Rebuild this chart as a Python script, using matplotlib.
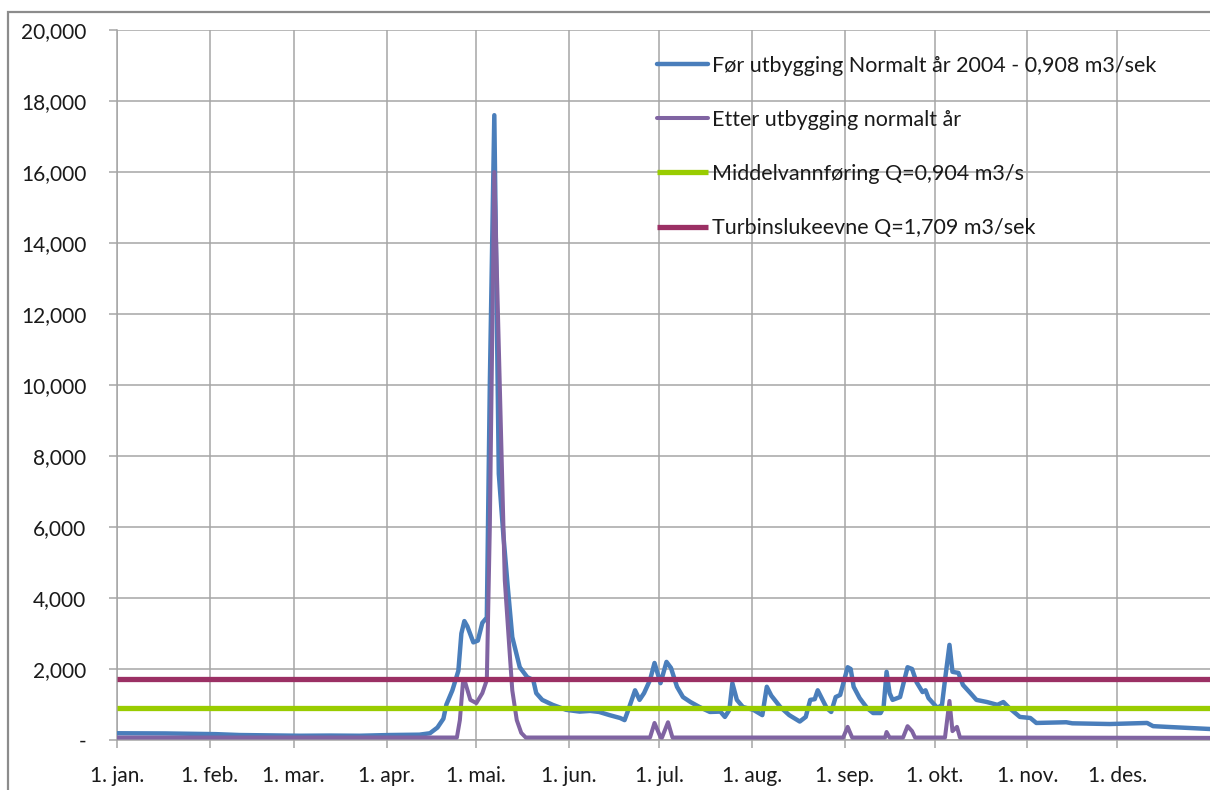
import matplotlib
matplotlib.use("Agg")
import matplotlib.pyplot as plt
from matplotlib.patches import Rectangle
from matplotlib.ticker import FuncFormatter, FixedLocator

# ---- data (day of year, value) ----
before_days = [0, 16, 33, 41, 51, 61, 71, 81, 91, 101, 104.5, 107, 109, 110, 112, 114, 115, 116, 117, 119,
               120.5, 122, 123.5, 124.5, 126, 127.5, 129, 130.5, 132, 134.5, 137, 139, 140, 142, 145.5, 150,
               154.5, 158, 161, 164.5, 168, 169.5, 170.5, 173, 174.5, 176, 178, 179.5, 181.5, 183.5, 185, 187,
               189, 191.5, 194.5, 198, 201.5, 203, 204.5, 205.5, 207, 209, 212.5, 215.5, 217, 218.5, 221.5,
               224.5, 228, 230, 231.5, 233, 234, 235.5, 237, 238.5, 240, 241.5, 244, 245, 246, 248, 250.5,
               252.5, 255, 256, 257, 258, 259, 261.5, 264, 265.5, 267, 269, 270, 271, 272.5, 274, 275.5,
               276.5, 278, 279, 281, 282.5, 285, 287, 290.5, 294, 296, 298, 301.5, 305, 307, 317, 319, 331.5,
               344, 346, 350.5, 365]
before_vals = [190, 185, 165, 140, 130, 120, 125, 120, 140, 150, 190, 350, 600, 1000, 1400, 1950, 3000, 3350,
               3200, 2750, 2800, 3300, 3450, 10000, 17600, 7500, 5800, 4300, 2900, 2050, 1770, 1690, 1320,
               1130, 990, 850, 800, 820, 790, 700, 620, 560, 790, 1400, 1130, 1320, 1690, 2170, 1600, 2200,
               2030, 1500, 1210, 1070, 930, 790, 800, 650, 850, 1600, 1130, 930, 850, 700, 1500, 1250, 930,
               700, 520, 650, 1130, 1150, 1400, 1150, 900, 790, 1210, 1270, 2050, 2000, 1500, 1180, 900,
               760, 760, 930, 1920, 1320, 1130, 1210, 2050, 2000, 1630, 1350, 1400, 1180, 1040, 900, 990,
               1690, 2680, 1920, 1890, 1550, 1320, 1130, 1070, 990, 1070, 900, 650, 620, 480, 500, 470, 450,
               480, 390, 370, 310]

after_days = [0, 113.5, 114.5, 115.5, 116, 118, 120, 122, 123.5, 124.5, 126, 129.5, 131, 132, 133.5, 135,
              136.5, 178, 179.5, 181.5, 182, 184, 185.5, 242.5, 244, 245.5, 256.5, 257, 258, 262.5, 264,
              265.5, 266.5, 276.5, 278, 279, 280.5, 281.5, 365]
after_vals = [70, 70, 560, 1600, 1700, 1130, 1040, 1320, 1690, 6000, 16000, 4500, 2620, 1400, 560, 200,
              70, 70, 480, 80, 70, 500, 70, 70, 370, 70, 70, 225, 70, 70, 390, 250, 70, 70, 1100, 250,
              370, 70, 60]

mean_flow = 904
turbine_capacity = 1709

month_starts = [0, 31, 59, 90, 120, 151, 181, 212, 243, 273, 304, 334]
month_labels = ["1. jan.", "1. feb.", "1. mar.", "1. apr.", "1. mai.", "1. jun.", "1. jul.",
                "1. aug.", "1. sep.", "1. okt.", "1. nov.", "1. des."]
y_ticks = [0, 2000, 4000, 6000, 8000, 10000, 12000, 14000, 16000, 18000, 20000]

labels = ["Før utbygging Normalt år 2004 - 0,908 m3/sek",
          "Etter utbygging normalt år",
          "Middelvannføring Q=0,904 m3/s",
          "Turbinslukeevne Q=1,709 m3/sek"]

plt.rcParams['font.family'] = ['Lato', 'DejaVu Sans']

W, H = 1210, 790
fig = plt.figure(figsize=(W / 100, H / 100), dpi=100)
ax = fig.add_axes([117 / W, 1 - 740 / H, (1210 - 117) / W, (740 - 30) / H])

# outer chart-area frame
fig.patches.append(Rectangle((8 / W, -0.1), 1.2, (H - 12) / H + 0.1, transform=fig.transFigure,
                             fill=False, edgecolor="#8c8c8c", linewidth=1.6))

kw = dict(solid_joinstyle="round", solid_capstyle="round")
ax.plot(before_days, before_vals, color="#4a7ebb", linewidth=3.2, label=labels[0], zorder=3, **kw)
ax.plot(after_days, after_vals, color="#8064a2", linewidth=2.9, label=labels[1], zorder=4, **kw)
ax.plot([0, 365], [mean_flow, mean_flow], color="#99cc00", linewidth=3.8, label=labels[2], zorder=5,
        solid_capstyle="butt")
ax.plot([0, 365], [turbine_capacity, turbine_capacity], color="#9b3064", linewidth=3.8, label=labels[3],
        zorder=6, solid_capstyle="butt")

ax.set_xlim(0, 365)
ax.set_ylim(0, 20000)
ax.xaxis.set_major_locator(FixedLocator(month_starts))
ax.set_xticklabels(month_labels)
ax.yaxis.set_major_locator(FixedLocator(y_ticks))
ax.yaxis.set_major_formatter(FuncFormatter(lambda v, p: "-" if v == 0 else f"{int(v):,}"))

ax.grid(True, color="#a6a6a6", linewidth=1.1)
ax.set_axisbelow(True)
for s in ["top", "right"]:
    ax.spines[s].set_visible(False)
for s in ["left", "bottom"]:
    ax.spines[s].set_color("#a6a6a6")
    ax.spines[s].set_linewidth(1.1)
ax.tick_params(axis="both", colors="#a6a6a6", labelcolor="#1a1a1a", labelsize=15, length=6, width=1.1)
ax.tick_params(axis="y", pad=16)
ax.tick_params(axis="x", pad=13)

leg = ax.legend(loc="upper left", bbox_to_anchor=(657 / W, 1 - 56 / H), bbox_transform=fig.transFigure,
                frameon=False, fontsize=15.5, handlelength=2.35, handletextpad=0.2, labelspacing=1.58,
                borderpad=0, borderaxespad=0)
for t in leg.get_texts():
    t.set_color("#1a1a1a")

fig.savefig("out.png", dpi=100)
